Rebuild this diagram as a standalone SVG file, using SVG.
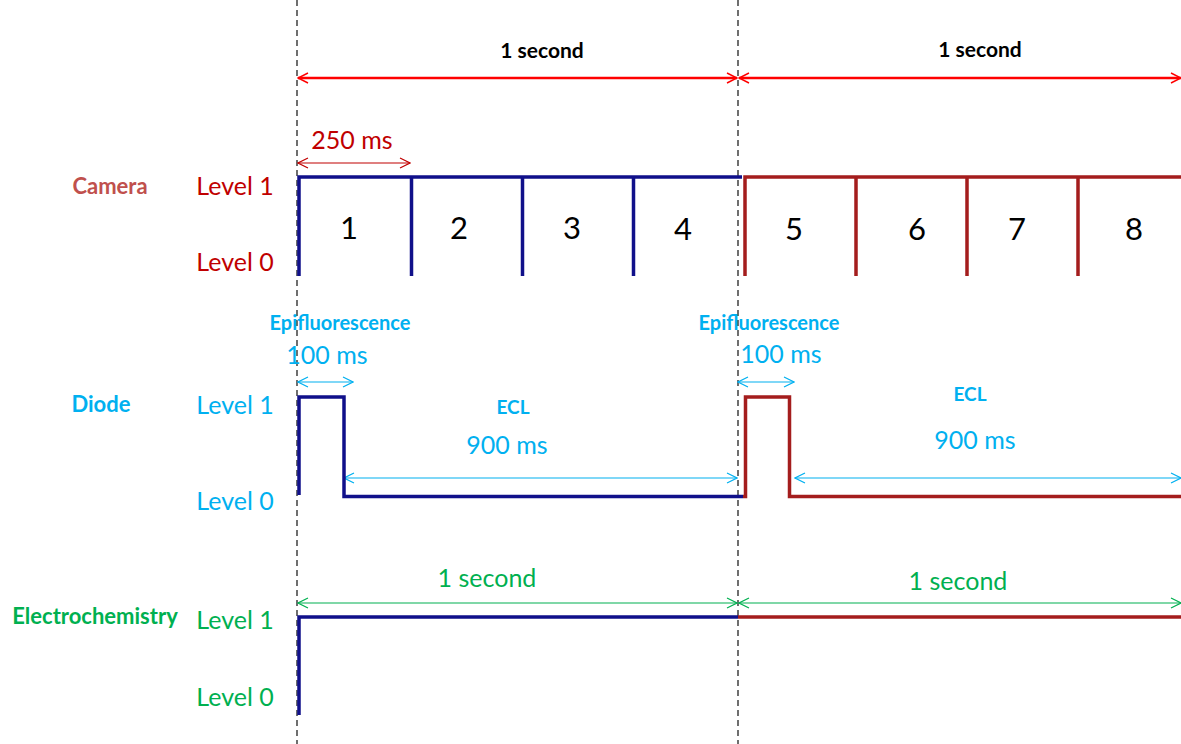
<svg xmlns="http://www.w3.org/2000/svg" width="1181" height="744" viewBox="0 0 1181 744">
<defs>
<style>
text{font-family:Lato,"Open Sans","Liberation Sans",sans-serif;}
.b{font-weight:bold;}
.lv{font-size:25px;text-anchor:middle;}
.num{font-size:31px;fill:#000;text-anchor:middle;}
.dash{stroke:#222;stroke-width:1.3;stroke-dasharray:6,4;fill:none;}
.sigB{stroke:#10108a;stroke-width:3.5;fill:none;}
.sigR{stroke:#a41d1d;stroke-width:3.5;fill:none;}
.red{fill:#c00000;}
.cam{fill:#c0504d;}
.cy{fill:#00b0f0;}
.gr{fill:#00b050;}
</style>
<marker id="aRed" viewBox="0 0 12 12" refX="11" refY="6" markerWidth="12" markerHeight="12" markerUnits="userSpaceOnUse" orient="auto-start-reverse"><path d="M1,1 L11,6 L1,11" fill="none" stroke="#ff0000" stroke-width="1.5"/></marker>
<marker id="aDR" viewBox="0 0 12 12" refX="11" refY="6" markerWidth="12" markerHeight="12" markerUnits="userSpaceOnUse" orient="auto-start-reverse"><path d="M1,1 L11,6 L1,11" fill="none" stroke="#c00000" stroke-width="1.2"/></marker>
<marker id="aCy" viewBox="0 0 12 12" refX="11" refY="6" markerWidth="12" markerHeight="12" markerUnits="userSpaceOnUse" orient="auto-start-reverse"><path d="M1,1 L11,6 L1,11" fill="none" stroke="#00b0f0" stroke-width="1.2"/></marker>
<marker id="aGr" viewBox="0 0 12 12" refX="11" refY="6" markerWidth="12" markerHeight="12" markerUnits="userSpaceOnUse" orient="auto-start-reverse"><path d="M1,1 L11,6 L1,11" fill="none" stroke="#00b050" stroke-width="1.2"/></marker>
</defs>
<rect width="1181" height="744" fill="#fff"/>
<g id="guides">
<line class="dash" x1="297" y1="0" x2="297" y2="744"/>
<line class="dash" x1="738" y1="0" x2="738" y2="744"/>
</g>
<g id="connectors">
<line x1="298" y1="78" x2="737" y2="78" stroke="#ff0000" stroke-width="2.5" marker-start="url(#aRed)" marker-end="url(#aRed)"/>
<line x1="739" y1="78" x2="1181" y2="78" stroke="#ff0000" stroke-width="2.5" marker-start="url(#aRed)" marker-end="url(#aRed)"/>
<line x1="298" y1="163" x2="410" y2="163" stroke="#c00000" stroke-width="1.2" marker-start="url(#aDR)" marker-end="url(#aDR)"/>
<line x1="298" y1="382" x2="353" y2="382" stroke="#00b0f0" stroke-width="1.2" marker-start="url(#aCy)" marker-end="url(#aCy)"/>
<line x1="738" y1="382" x2="794" y2="382" stroke="#00b0f0" stroke-width="1.2" marker-start="url(#aCy)" marker-end="url(#aCy)"/>
<line x1="344" y1="478" x2="737" y2="478" stroke="#00b0f0" stroke-width="1.2" marker-start="url(#aCy)" marker-end="url(#aCy)"/>
<line x1="795" y1="478" x2="1181" y2="478" stroke="#00b0f0" stroke-width="1.2" marker-start="url(#aCy)" marker-end="url(#aCy)"/>
<line x1="298" y1="603" x2="737" y2="603" stroke="#00b050" stroke-width="1.2" marker-start="url(#aGr)" marker-end="url(#aGr)"/>
<line x1="739" y1="603" x2="1181" y2="603" stroke="#00b050" stroke-width="1.2" marker-start="url(#aGr)" marker-end="url(#aGr)"/>
</g>
<g id="timing-labels">
<text class="b" x="542" y="58" font-size="21" text-anchor="middle" fill="#000">1 second</text>
<text class="b" x="980" y="57" font-size="21" text-anchor="middle" fill="#000">1 second</text>
<text class="red" x="352" y="149" font-size="25" text-anchor="middle">250 ms</text>
</g>
<g id="camera">
<text class="b cam" x="110" y="194" font-size="22" text-anchor="middle">Camera</text>
<text class="lv red" x="235" y="195">Level 1</text>
<text class="lv red" x="235" y="271">Level 0</text>
<path class="sigB" d="M299,276 V177 H742 M411.5,177 V276 M522.5,177 V276 M633.5,177 V276"/>
<path class="sigR" d="M745,276 V177 H1181 M856,177 V276 M967,177 V276 M1078,177 V276"/>
<text class="num" x="349" y="239">1</text>
<text class="num" x="459" y="239">2</text>
<text class="num" x="572" y="239">3</text>
<text class="num" x="683" y="240">4</text>
<text class="num" x="794" y="240">5</text>
<text class="num" x="917" y="240">6</text>
<text class="num" x="1017" y="240">7</text>
<text class="num" x="1134" y="240">8</text>
</g>
<g id="diode">
<text class="b cy" x="101" y="412" font-size="22" text-anchor="middle">Diode</text>
<text class="lv cy" x="235" y="414">Level 1</text>
<text class="lv cy" x="235" y="510">Level 0</text>
<text class="b cy" x="340" y="330" font-size="20" text-anchor="middle">Epifluorescence</text>
<text class="b cy" x="769" y="330" font-size="20" text-anchor="middle">Epifluorescence</text>
<text class="cy" x="327" y="364" font-size="25" text-anchor="middle">100 ms</text>
<text class="cy" x="781" y="363" font-size="25" text-anchor="middle">100 ms</text>
<text class="b cy" x="513" y="414" font-size="19" text-anchor="middle">ECL</text>
<text class="b cy" x="970" y="401" font-size="19" text-anchor="middle">ECL</text>
<text class="cy" x="507" y="454" font-size="25" text-anchor="middle">900 ms</text>
<text class="cy" x="975" y="449" font-size="25" text-anchor="middle">900 ms</text>
<path class="sigB" d="M299,495 V397 H344 V496.5 H743"/>
<path class="sigR" d="M743,496.5 H745.5 V397 H789.5 V496.5 H1181"/>
</g>
<g id="electrochemistry">
<text class="b gr" x="95" y="624" font-size="22" text-anchor="middle">Electrochemistry</text>
<text class="lv gr" x="235" y="629">Level 1</text>
<text class="lv gr" x="235" y="706">Level 0</text>
<text class="gr" x="487" y="587" font-size="25" text-anchor="middle">1 second</text>
<text class="gr" x="958" y="590" font-size="25" text-anchor="middle">1 second</text>
<path class="sigB" d="M299,715 V617 H738"/>
<path class="sigR" d="M738,617 H1181"/>
</g>
</svg>
